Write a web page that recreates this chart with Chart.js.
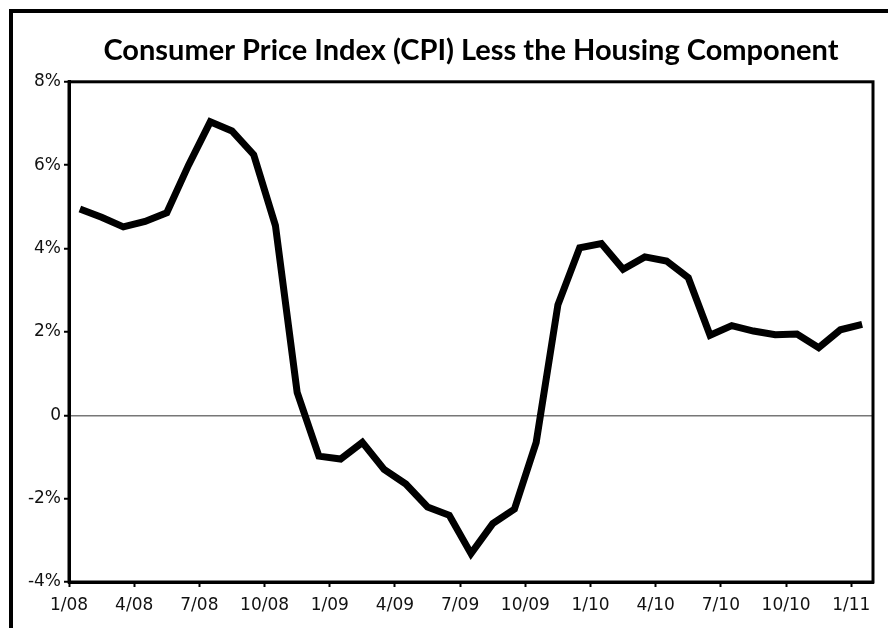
<!DOCTYPE html>
<html>
<head>
<meta charset="utf-8">
<title>Consumer Price Index (CPI) Less the Housing Component</title>
<script src="https://cdn.jsdelivr.net/npm/chart.js@4/dist/chart.umd.min.js"></script>
<style>
  html, body { margin: 0; padding: 0; background: #fff; overflow: hidden; }
  #wrap { position: relative; width: 888px; height: 628px; }
  #frame {
    position: absolute; left: 9px; top: 9px; width: 900px; height: 640px;
    border-left: 4px solid #000; border-top: 4px solid #000;
  }
  canvas { position: absolute; left: 0; top: 0; }
</style>
</head>
<body>
<div id="wrap">
  <div id="frame"></div>
  <canvas id="chart" width="888" height="628"></canvas>
</div>
<script>
// Meses (1/08 .. 1/11), un valor por mes
const months = [
  "1/08", "2/08", "3/08", "4/08", "5/08", "6/08", "7/08", "8/08", "9/08", "10/08", "11/08", "12/08",
  "1/09", "2/09", "3/09", "4/09", "5/09", "6/09", "7/09", "8/09", "9/09", "10/09", "11/09", "12/09",
  "1/10", "2/10", "3/10", "4/10", "5/10", "6/10", "7/10", "8/10", "9/10", "10/10", "11/10", "12/10",
  "1/11"
];

// CPI sin vivienda, variacion anual en %
const cpiLessHousing = [
  4.95, 4.75, 4.52, 4.65, 4.86, 6.0, 7.04, 6.82, 6.25, 4.55, 0.55, -0.98,
  -1.05, -0.65, -1.3, -1.65, -2.2, -2.4, -3.32, -2.6, -2.25, -0.65, 2.65, 4.02,
  4.12, 3.5, 3.8, 3.7, 3.3, 1.92, 2.15, 2.02, 1.93, 1.95, 1.62, 2.05,
  2.18
];

// Ticks del eje X (indice de mes) y sus etiquetas
const xTicks = [0, 3, 6, 9, 12, 15, 18, 21, 24, 27, 30, 33, 36];
const xTickLabels = ["1/08", "4/08", "7/08", "10/08", "1/09", "4/09", "7/09", "10/09", "1/10", "4/10", "7/10", "10/10", "1/11"];

// Ticks del eje Y
const yTicks = [-4, -2, 0, 2, 4, 6, 8];
const yTickLabels = ["-4%", "-2%", "0", "2%", "4%", "6%", "8%"];

// cada valor se dibuja a mitad de su mes
const points = cpiLessHousing.map((v, i) => ({ x: i + 0.5, y: v }));

// Marco negro alrededor del area del grafico
const plotFrame = {
  id: "plotFrame",
  afterDraw(chart) {
    const { ctx, chartArea: a } = chart;
    ctx.save();
    ctx.strokeStyle = "#000";
    ctx.lineWidth = 3;
    ctx.strokeRect(a.left, a.top, a.right - a.left, a.bottom - a.top);
    ctx.restore();
  }
};

const tickFont = { family: "'DejaVu Sans', sans-serif", size: 17 };

new Chart(document.getElementById("chart"), {
  type: "line",
  data: {
    datasets: [{
      label: "CPI less housing",
      data: points,
      borderColor: "#000",
      borderWidth: 7,
      pointRadius: 0,
      tension: 0,
      fill: false
    }]
  },
  options: {
    responsive: false,
    animation: false,
    layout: { padding: { left: 0, right: 15, top: 0, bottom: 0 } },
    plugins: {
      legend: { display: false },
      tooltip: { enabled: false },
      title: {
        display: true,
        text: "Consumer Price Index (CPI) Less the Housing Component",
        fullSize: false,
        color: "#000",
        font: { family: "Lato, 'Open Sans', sans-serif", size: 29, weight: "bold", lineHeight: 1.2 },
        padding: { top: 33, bottom: 14 }
      }
    },
    scales: {
      x: {
        type: "linear",
        min: 0,
        max: 37,
        afterBuildTicks: (s) => { s.ticks = xTicks.map(v => ({ value: v })); },
        afterFit: (s) => { s.height = 46; },
        ticks: {
          autoSkip: false,
          maxRotation: 0,
          color: "#111",
          font: tickFont,
          padding: 8,
          callback: (v) => xTickLabels[xTicks.indexOf(v)]
        },
        grid: { drawOnChartArea: false, tickLength: 5, tickWidth: 2, tickColor: "#000" },
        border: { color: "#000", width: 3 }
      },
      y: {
        min: -4,
        max: 8,
        afterBuildTicks: (s) => { s.ticks = yTicks.map(v => ({ value: v })); },
        afterFit: (s) => { s.width = 69; },
        ticks: {
          color: "#111",
          font: tickFont,
          padding: 3,
          callback: (v) => yTickLabels[yTicks.indexOf(v)]
        },
        grid: {
          color: (c) => (c.tick && c.tick.value === 0 ? "#777" : "rgba(0,0,0,0)"),
          lineWidth: 1.5,
          tickLength: 5,
          tickWidth: 2,
          tickColor: "#000"
        },
        border: { color: "#000", width: 3 }
      }
    }
  },
  plugins: [plotFrame]
});
</script>
</body>
</html>
